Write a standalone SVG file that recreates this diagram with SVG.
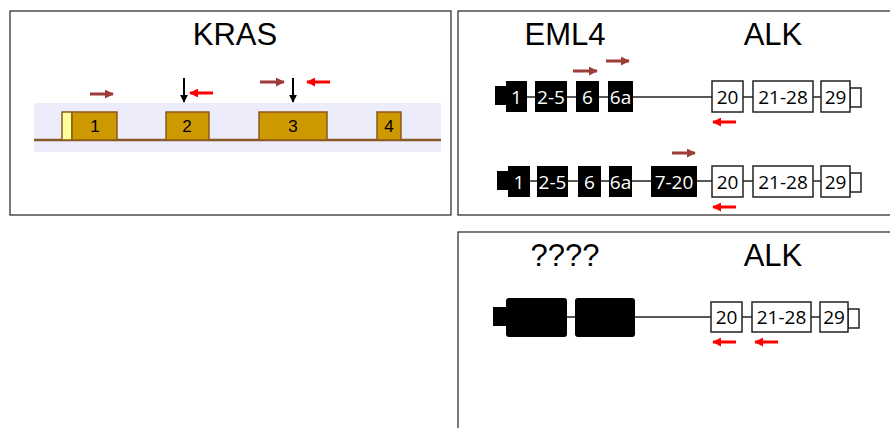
<svg xmlns="http://www.w3.org/2000/svg" width="890" height="428" viewBox="0 0 890 428">
  <defs>
    <marker id="head-brown" viewBox="0 0 10 10" refX="9" refY="5" markerWidth="9" markerHeight="9" markerUnits="userSpaceOnUse" orient="auto">
      <path d="M0,0 L10,5 L0,10 Z" fill="#9e3c38"/>
    </marker>
    <marker id="head-red" viewBox="0 0 10 10" refX="9" refY="5" markerWidth="9" markerHeight="9" markerUnits="userSpaceOnUse" orient="auto">
      <path d="M0,0 L10,5 L0,10 Z" fill="#ff0000"/>
    </marker>
    <marker id="head-black" viewBox="0 0 10 10" refX="9" refY="5" markerWidth="8" markerHeight="8" markerUnits="userSpaceOnUse" orient="auto">
      <path d="M0,0 L10,5 L0,10 Z" fill="#000"/>
    </marker>
  </defs>
  <style>
    .panel { fill: #fff; stroke: #222; stroke-width: 1.2; }
    .title { font-family: "Liberation Sans", Arial, sans-serif; font-size: 31px; text-anchor: middle; fill: #000; }
    .kexon { fill: #cc9900; stroke: #8b5a1e; stroke-width: 1.5; }
    .klabel { font-family: "Liberation Sans", Arial, sans-serif; font-size: 17px; text-anchor: middle; fill: #000; }
    .bexon { fill: #000; }
    .wexon { fill: #fff; stroke: #222; stroke-width: 1.5; }
    .blabel { font-family: "Open Sans", "Noto Sans", sans-serif; font-size: 19px; text-anchor: middle; fill: #fff; }
    .wlabel { font-family: "Open Sans", "Noto Sans", sans-serif; font-size: 19px; text-anchor: middle; fill: #000; }
    .intron { stroke: #222; stroke-width: 1.5; fill: none; }
    .fwd { stroke: #9e3c38; stroke-width: 3; marker-end: url(#head-brown); }
    .rev { stroke: #ff0000; stroke-width: 3; marker-end: url(#head-red); }
    .site { stroke: #000; stroke-width: 2; marker-end: url(#head-black); }
  </style>

  <!-- panel frames -->
  <rect class="panel" x="10" y="11" width="441" height="204"/>
  <rect class="panel" x="458" y="11" width="440" height="204"/>
  <rect class="panel" x="458" y="232" width="440" height="210"/>

  <!-- KRAS gene -->
  <g id="kras">
    <text class="title" x="235" y="45">KRAS</text>
    <rect x="34" y="103" width="407" height="49" fill="#ececfa"/>
    <line x1="34" y1="140" x2="441" y2="140" stroke="#8b5a2b" stroke-width="2.5"/>
    <g id="kras-exon1">
      <rect x="62" y="112" width="10" height="28" fill="#ffff99" stroke="#8b5a1e" stroke-width="1.5"/>
      <rect class="kexon" x="72" y="112" width="45" height="28"/>
      <text class="klabel" x="95" y="132">1</text>
    </g>
    <g id="kras-exon2">
      <rect class="kexon" x="166" y="112" width="43" height="28"/>
      <text class="klabel" x="187" y="132">2</text>
    </g>
    <g id="kras-exon3">
      <rect class="kexon" x="259" y="112" width="68" height="28"/>
      <text class="klabel" x="293" y="132">3</text>
    </g>
    <g id="kras-exon4">
      <rect class="kexon" x="377" y="112" width="24" height="28"/>
      <text class="klabel" x="389" y="132">4</text>
    </g>
  </g>

  <!-- EML4-ALK variant 1 -->
  <g id="eml4-alk-v1">
    <text class="title" x="565" y="45">EML4</text>
    <text class="title" x="773" y="45">ALK</text>
    <line class="intron" x1="506" y1="97" x2="712" y2="97"/>
    <line class="intron" x1="743" y1="97" x2="821" y2="97"/>
    <g id="v1-e1"><rect class="bexon" x="495" y="86" width="12" height="19"/><rect class="bexon" x="506" y="81" width="21" height="31"/><text class="blabel" x="516.5" y="103.5">1</text></g>
    <g id="v1-e2-5"><rect class="bexon" x="535" y="81" width="32" height="31"/><text class="blabel" x="551" y="103.5">2-5</text></g>
    <g id="v1-e6"><rect class="bexon" x="576" y="81" width="23" height="31"/><text class="blabel" x="587.5" y="103.5">6</text></g>
    <g id="v1-e6a"><rect class="bexon" x="608" y="81" width="25" height="31"/><text class="blabel" x="620.5" y="103.5">6a</text></g>
    <g id="v1-a20"><rect class="wexon" x="712" y="81" width="31" height="31"/><text class="wlabel" x="727.5" y="103.5">20</text></g>
    <g id="v1-a21-28"><rect class="wexon" x="753" y="81" width="60" height="31"/><text class="wlabel" x="783" y="103.5">21-28</text></g>
    <g id="v1-a29"><rect class="wexon" x="850" y="88" width="11" height="19"/><rect class="wexon" x="821" y="81" width="29" height="31"/><text class="wlabel" x="835.5" y="103.5">29</text></g>
  </g>

  <!-- EML4-ALK variant 2 -->
  <g id="eml4-alk-v2">
    <line class="intron" x1="508" y1="181" x2="712" y2="181"/>
    <line class="intron" x1="743" y1="181" x2="821" y2="181"/>
    <g id="v2-e1"><rect class="bexon" x="497" y="171" width="12" height="19"/><rect class="bexon" x="508" y="166" width="22" height="31"/><text class="blabel" x="519" y="188.5">1</text></g>
    <g id="v2-e2-5"><rect class="bexon" x="537" y="166" width="31" height="31"/><text class="blabel" x="552.5" y="188.5">2-5</text></g>
    <g id="v2-e6"><rect class="bexon" x="578" y="166" width="23" height="31"/><text class="blabel" x="589.5" y="188.5">6</text></g>
    <g id="v2-e6a"><rect class="bexon" x="609" y="166" width="23" height="31"/><text class="blabel" x="620.5" y="188.5">6a</text></g>
    <g id="v2-e7-20"><rect class="bexon" x="651" y="166" width="46" height="31"/><text class="blabel" x="674" y="188.5">7-20</text></g>
    <g id="v2-a20"><rect class="wexon" x="712" y="166" width="31" height="31"/><text class="wlabel" x="727.5" y="188.5">20</text></g>
    <g id="v2-a21-28"><rect class="wexon" x="753" y="166" width="60" height="31"/><text class="wlabel" x="783" y="188.5">21-28</text></g>
    <g id="v2-a29"><rect class="wexon" x="850" y="173" width="11" height="19"/><rect class="wexon" x="821" y="166" width="29" height="31"/><text class="wlabel" x="835.5" y="188.5">29</text></g>
  </g>

  <!-- unknown partner - ALK -->
  <g id="unknown-alk">
    <text class="title" x="565" y="266">????</text>
    <text class="title" x="773" y="266">ALK</text>
    <line class="intron" x1="560" y1="317" x2="712" y2="317"/>
    <line class="intron" x1="742" y1="317" x2="820" y2="317"/>
    <g id="u-partner">
      <rect class="bexon" x="493" y="307" width="15" height="19"/>
      <rect class="bexon" x="506" y="298" width="61" height="39" rx="3"/>
      <rect class="bexon" x="575" y="298" width="60" height="39" rx="3"/>
    </g>
    <g id="u-a20"><rect class="wexon" x="711" y="302" width="31" height="30"/><text class="wlabel" x="726.5" y="324">20</text></g>
    <g id="u-a21-28"><rect class="wexon" x="752" y="302" width="59" height="30"/><text class="wlabel" x="781.5" y="324">21-28</text></g>
    <g id="u-a29"><rect class="wexon" x="848" y="309" width="11" height="19"/><rect class="wexon" x="820" y="302" width="28" height="30"/><text class="wlabel" x="834" y="324">29</text></g>
  </g>

  <!-- primers and mutation sites -->
  <g id="connectors">
    <line class="fwd" x1="90" y1="94" x2="113" y2="94"/>
    <line class="site" x1="184" y1="78" x2="184" y2="102"/>
    <line class="rev" x1="213" y1="93" x2="190" y2="93"/>
    <line class="fwd" x1="260" y1="82" x2="284" y2="82"/>
    <line class="site" x1="293" y1="78" x2="293" y2="102"/>
    <line class="rev" x1="330" y1="82" x2="307" y2="82"/>

    <line class="fwd" x1="573" y1="71" x2="597" y2="71"/>
    <line class="fwd" x1="606" y1="61" x2="629" y2="61"/>
    <line class="rev" x1="736" y1="122" x2="713" y2="122"/>

    <line class="fwd" x1="672" y1="153" x2="695" y2="153"/>
    <line class="rev" x1="736" y1="207" x2="713" y2="207"/>

    <line class="rev" x1="736" y1="342" x2="713" y2="342"/>
    <line class="rev" x1="778" y1="342" x2="755" y2="342"/>
  </g>
</svg>
